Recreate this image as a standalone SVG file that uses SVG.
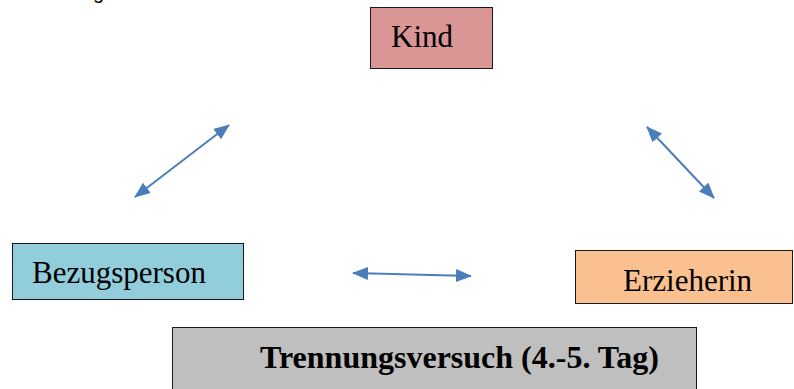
<svg xmlns="http://www.w3.org/2000/svg" width="794" height="389" viewBox="0 0 794 389">
  <style>
    .box { stroke: #1a1a1a; stroke-width: 1; }
    .lbl { font-family: "Liberation Serif", "Times New Roman", serif; font-size: 31px; fill: #000; }
    .bold { font-weight: bold; font-size: 32px; }
    .conn { stroke: #4A7EBB; stroke-width: 2; fill: none; marker-start: url(#head); marker-end: url(#head); }
  </style>
  <defs>
    <marker id="head" viewBox="0 0 16 13" refX="15" refY="6.5" markerWidth="16" markerHeight="13" markerUnits="userSpaceOnUse" orient="auto-start-reverse">
      <path d="M0,0 L16,6.5 L0,13 Z" fill="#4A7EBB"/>
    </marker>
  </defs>

  <rect width="794" height="389" fill="#fff"/>

  <!-- clipped heading descender at the top edge -->
  <text x="93" y="-1" font-family="Liberation Sans, Arial, sans-serif" font-size="20" fill="#000">g</text>

  <g id="kind">
    <rect class="box" x="370.5" y="7.5" width="122" height="61" fill="#D99694"/>
    <text class="lbl" x="391" y="47">Kind</text>
  </g>

  <g id="bezugsperson">
    <rect class="box" x="12.5" y="243.5" width="231" height="56" fill="#92CDDC"/>
    <text class="lbl" x="32" y="283">Bezugsperson</text>
  </g>

  <g id="erzieherin">
    <rect class="box" x="575.5" y="250.5" width="217" height="53" fill="#FAC08F"/>
    <text class="lbl" x="623" y="291">Erzieherin</text>
  </g>

  <g id="trennungsversuch">
    <rect class="box" x="172.5" y="327.5" width="524" height="70" fill="#BFBFBF"/>
    <text class="lbl bold" x="260" y="368">Trennungsversuch (4.-5. Tag)</text>
  </g>

  <g id="connectors">
    <line class="conn" x1="135" y1="197" x2="229" y2="125"/>
    <line class="conn" x1="647" y1="127" x2="714" y2="198"/>
    <line class="conn" x1="353" y1="273" x2="471" y2="276"/>
  </g>
</svg>
